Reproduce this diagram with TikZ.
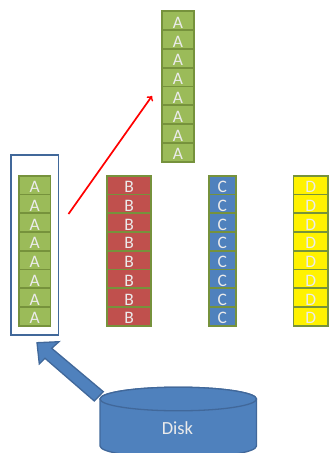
\documentclass[tikz,border=0pt]{standalone}
\usepackage{fontspec}
\setmainfont{Carlito}
\usepackage{xcolor}
\usepackage{tikz}
\usetikzlibrary{positioning}
\pgfdeclarelayer{nodelayer}
\pgfdeclarelayer{edgelayer}
\pgfsetlayers{nodelayer,edgelayer,main}
\definecolor{cellgreen}{HTML}{9BBB59}
\definecolor{cellred}{HTML}{C0504D}
\definecolor{cellblue}{HTML}{4F81BD}
\definecolor{celledge}{HTML}{76923C}
\definecolor{diskedge}{HTML}{41689A}
\tikzset{
  cell/.style={draw=celledge, line width=1.7pt, inner sep=0pt, minimum height=18.75pt, text height=15pt, text depth=0pt, text=white!92!black, font=\fontsize{17.5}{17.5}\selectfont},
  diskshape/.style={draw=diskedge, fill=cellblue, line width=1.3pt},
}

\begin{document}
\begin{tikzpicture}[x=1pt, y=-1pt]
  \useasboundingbox (0, 0) rectangle (329, 453);
  \clip (0, 0) rectangle (329, 453);
  \begin{pgfonlayer}{nodelayer}
    \foreach \i in {1,...,8} {
      \node [cell, fill=cellgreen, minimum width=31.5pt] (top\i) at (178, 1.9+18.8*\i) {A};
      \node [cell, fill=cellgreen, minimum width=31.5pt] (a\i) at (34.75, 166.3+18.75*\i) {A};
      \node [cell, fill=cellred, minimum width=44pt] (b\i) at (129.25, 166.3+18.75*\i) {B};
      \node [cell, fill=cellblue, minimum width=27pt] (c\i) at (222.25, 166.3+18.75*\i) {C};
      \node [cell, fill=yellow, minimum width=34.5pt] (d\i) at (310.75, 166.3+18.75*\i) {D};
    }
    \node [draw=diskedge, line width=1.7pt, inner sep=0pt, minimum width=47.5pt, minimum height=180pt] (box) at (34.75, 245) {};
    \path [diskshape] (100, 399) -- (100, 446) arc [start angle=180, end angle=360, x radius=78.25, y radius=-11.8] -- (256.5, 399) arc [start angle=0, end angle=180, x radius=78.25, y radius=-11.8];
    \path [diskshape] (178.25, 399) ellipse [x radius=78.25, y radius=11.8];
    \node [text=white!92!black, font=\fontsize{18.5}{18.5}\selectfont] (disk) at (177.5, 428) {Disk};
  \end{pgfonlayer}
  \begin{pgfonlayer}{edgelayer}
    \coordinate (from) at (68.5, 214);
    \coordinate (to) at (152, 96);
    \draw [->, red, line width=1.7pt] (from) to (to);
    % block arrow from the disk up to the box
    \path [diskshape, line join=miter] (103.3, 391.7) -- (51.7, 348.3) -- (59, 341.7) -- (37, 342.7) -- (39.3, 364) -- (45, 358.3) -- (94.3, 401) -- cycle;
  \end{pgfonlayer}
\end{tikzpicture}
\end{document}
